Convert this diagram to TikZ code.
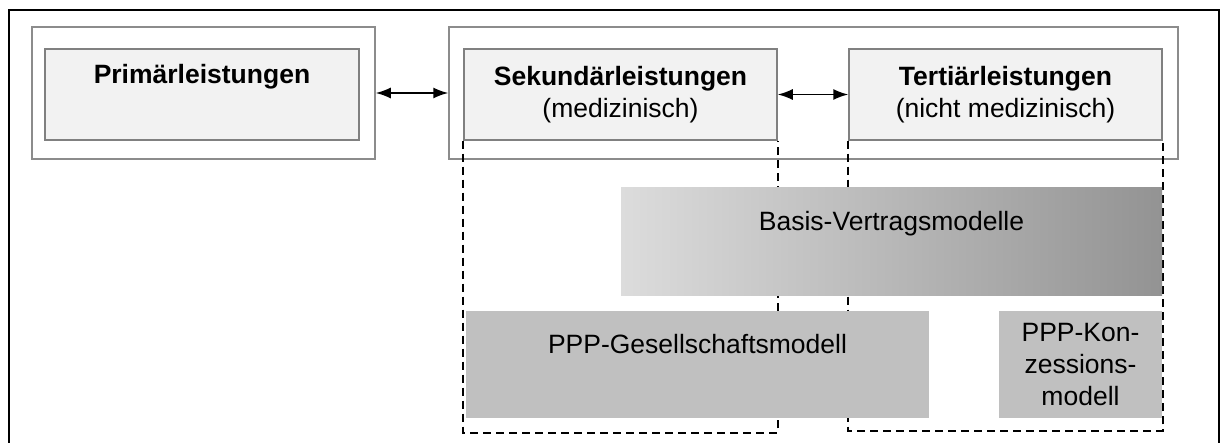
\documentclass[tikz,border=0pt]{standalone}
\usepackage{fontspec}
\setmainfont{Liberation Sans}
\usetikzlibrary{arrows.meta,positioning}

\definecolor{boxfill}{HTML}{F2F2F2}
\definecolor{boxline}{HTML}{808080}
\definecolor{outline}{HTML}{8C8C8C}
\definecolor{modfill}{HTML}{C0C0C0}
\definecolor{basisleft}{HTML}{DCDCDC}
\definecolor{basisright}{HTML}{939393}

\begin{document}
\begin{tikzpicture}[x=1pt,y=-1pt]
\tikzset{
  outerbox/.style={draw=outline,line width=1.5pt,minimum height=132pt,inner sep=0pt},
  levelbox/.style={draw=boxline,line width=1.5pt,fill=boxfill,minimum width=313pt,minimum height=91pt,
    inner sep=0pt,align=center,font=\fontsize{26.5}{32}\selectfont},
  modelbox/.style={fill=modfill,minimum height=107pt,inner sep=0pt,align=center,
    font=\fontsize{26.5}{32}\selectfont},
  directed/.style={{Latex[length=15pt,width=11pt]}-{Latex[length=15pt,width=11pt]},line width=1.5pt},
  scopeline/.style={dash pattern=on 8pt off 5pt,line width=2pt}
}
\useasboundingbox (0,0) rectangle (1221,443);
% frame, open at the bottom
\draw[line width=1.5pt] (9,443) -- (9,10) -- (1219,10) -- (1219,443);
\node[outerbox,minimum width=343pt] (n_primout) at (203.5,93) {};
\node[outerbox,minimum width=729pt] (n_mainout) at (813.5,93) {};
\node[levelbox,minimum width=314pt] (n_prim) at (202,94.5) {\textbf{Primärleistungen}\\ \strut};
\node[levelbox] (n_sek) at (620.5,94.5) {\textbf{Sekundärleistungen}\\(medizinisch)};
\node[levelbox] (n_tert) at (1005.5,94.5) {\textbf{Tertiärleistungen}\\(nicht medizinisch)};
\draw[directed] (n_primout.east) -- (n_mainout.west);
\draw[directed] (n_sek.east) -- (n_tert.west);
% dashed scopes below the levels
\draw[scopeline] (n_sek.south west) -- ++(0,292) -| (n_sek.south east);
\draw[scopeline] (n_tert.south west) -- ++(0,290) -| (n_tert.south east);
\node[modelbox,minimum width=541pt,minimum height=108pt,left color=basisleft,right color=basisright]
  (n_basis) at (891.5,242) {Basis-Vertragsmodelle\\ \strut};
\node[modelbox,minimum width=463pt] (n_gesell) at (697.5,364.5) {PPP-Gesellschaftsmodell\\ \strut};
\node[modelbox,minimum width=163pt] (n_konz) at (1080.5,364.5) {PPP-Kon-\\zessions-\\modell};
\end{tikzpicture}
\end{document}
